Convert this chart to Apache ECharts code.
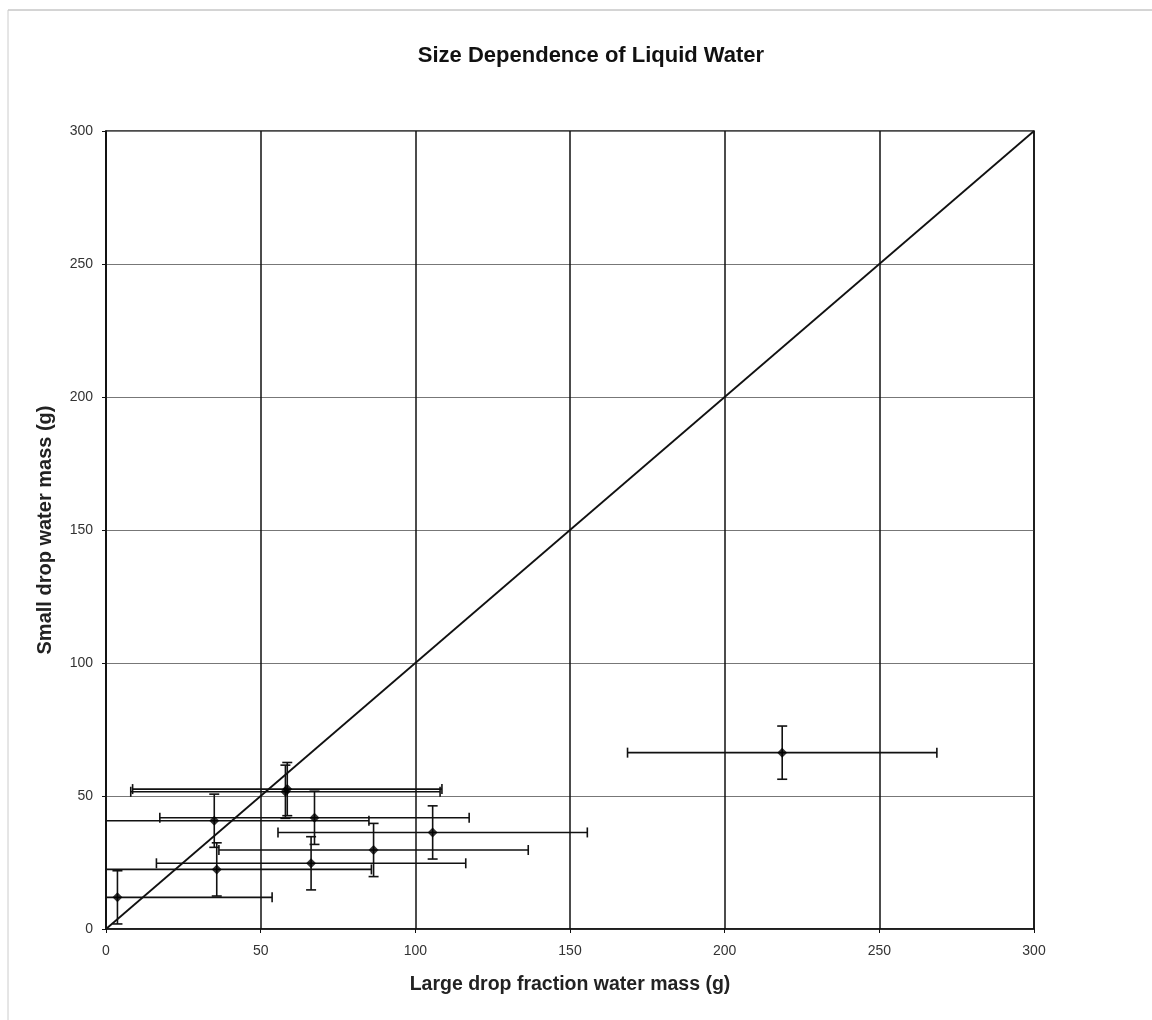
<!DOCTYPE html>
<html>
<head>
<meta charset="utf-8">
<title>Size Dependence of Liquid Water</title>
<script src="https://cdn.jsdelivr.net/npm/echarts@6/dist/echarts.min.js"></script>
<style>
  html, body { margin: 0; padding: 0; background: #fff; }
  #chart { width: 1152px; height: 1020px; }
</style>
</head>
<body>
<div id="chart"></div>
<script>
// Measured samples: large drop fraction (x) vs small drop (y) water mass, in grams
const largeDropMass = [3.7, 35.8, 66.3, 86.5, 105.6, 35.0, 67.4, 58.6, 58.0, 218.6];
const smallDropMass = [11.9, 22.4, 24.7, 29.7, 36.3, 40.7, 41.8, 52.6, 51.6, 66.3];
// Uncertainties (half-widths of the error bars)
const largeDropErr = [50, 50, 50, 50, 50, 50, 50, 50, 50, 50];
const smallDropErr = [10, 10, 10, 10, 10, 10, 10, 10, 10, 10];
// 1:1 reference line
const oneToOne = [[0, 0], [300, 300]];
const axisTicks = [0, 50, 100, 150, 200, 250, 300];

const points = largeDropMass.map((x, i) => [x, smallDropMass[i]]);
const errorData = largeDropMass.map((x, i) => [x, smallDropMass[i], largeDropErr[i], smallDropErr[i]]);

const FONT = 'Liberation Sans, Arial, sans-serif';
const chart = echarts.init(document.getElementById('chart'), null, { renderer: 'canvas' });

function renderErrorBars(params, api) {
  const x = api.value(0), y = api.value(1), ex = api.value(2), ey = api.value(3);
  const cs = params.coordSys;
  const c = api.coord([x, y]);
  const l = api.coord([x - ex, y]);
  const r = api.coord([x + ex, y]);
  const t = api.coord([x, y + ey]);
  const b = api.coord([x, y - ey]);
  const cap = 5;
  const style = { stroke: '#111', lineWidth: 1.6 };
  const children = [];
  const left = Math.max(l[0], cs.x);
  const right = Math.min(r[0], cs.x + cs.width);
  children.push({ type: 'line', shape: { x1: left, y1: c[1], x2: right, y2: c[1] }, style });
  if (l[0] >= cs.x) {
    children.push({ type: 'line', shape: { x1: l[0], y1: c[1] - cap, x2: l[0], y2: c[1] + cap }, style });
  }
  if (r[0] <= cs.x + cs.width) {
    children.push({ type: 'line', shape: { x1: r[0], y1: c[1] - cap, x2: r[0], y2: c[1] + cap }, style });
  }
  const top = Math.max(t[1], cs.y);
  const bottom = Math.min(b[1], cs.y + cs.height);
  children.push({ type: 'line', shape: { x1: c[0], y1: top, x2: c[0], y2: bottom }, style });
  children.push({ type: 'line', shape: { x1: c[0] - cap, y1: t[1], x2: c[0] + cap, y2: t[1] }, style });
  children.push({ type: 'line', shape: { x1: c[0] - cap, y1: b[1], x2: c[0] + cap, y2: b[1] }, style });
  return { type: 'group', children };
}

const option = {
  backgroundColor: '#fff',
  animation: false,
  title: {
    text: 'Size Dependence of Liquid Water',
    left: 586,
    top: 40,
    textAlign: 'center',
    textStyle: { fontFamily: FONT, fontSize: 22, fontWeight: 'bold', color: '#111' }
  },
  graphic: [
    { type: 'line', shape: { x1: 8, y1: 10, x2: 1152, y2: 10 }, style: { stroke: '#aaa', lineWidth: 1 } },
    { type: 'line', shape: { x1: 8, y1: 10, x2: 8, y2: 1020 }, style: { stroke: '#ccc', lineWidth: 1 } }
  ],
  grid: { left: 106, right: 118, top: 131, bottom: 91, show: true, borderColor: '#111', borderWidth: 1.5 },
  xAxis: {
    type: 'value', min: 0, max: 300, interval: 50,
    name: 'Large drop fraction water mass (g)',
    nameLocation: 'middle', nameGap: 46,
    nameTextStyle: { fontFamily: FONT, fontSize: 19.5, fontWeight: 'bold', color: '#222' },
    axisLine: { show: true, lineStyle: { color: '#111', width: 1.5 } },
    axisTick: { show: true, inside: false, length: 4, lineStyle: { color: '#111' } },
    axisLabel: {
      fontFamily: FONT, fontSize: 14, color: '#333', margin: 15,
      formatter: v => axisTicks.includes(v) ? String(v) : ''
    },
    splitLine: { show: true, lineStyle: { color: '#111', width: 1.5 } }
  },
  yAxis: {
    type: 'value', min: 0, max: 300, interval: 50,
    name: 'Small drop water mass (g)',
    nameLocation: 'middle', nameGap: 51,
    nameTextStyle: { fontFamily: FONT, fontSize: 20, fontWeight: 'bold', color: '#222' },
    axisLine: { show: true, lineStyle: { color: '#111', width: 1.5 } },
    axisTick: { show: true, inside: false, length: 4, lineStyle: { color: '#111' } },
    axisLabel: {
      fontFamily: FONT, fontSize: 14, color: '#333', margin: 13,
      formatter: v => axisTicks.includes(v) ? String(v) : ''
    },
    splitLine: { show: true, lineStyle: { color: '#777', width: 1 } }
  },
  series: [
    {
      type: 'line', data: oneToOne, symbol: 'none', silent: true,
      lineStyle: { color: '#111', width: 1.8 }, z: 2
    },
    {
      type: 'custom', data: errorData, renderItem: renderErrorBars,
      encode: { x: 0, y: 1 }, z: 3, silent: true
    },
    {
      type: 'scatter', data: points, symbol: 'diamond', symbolSize: 10,
      itemStyle: { color: '#000' }, z: 4
    }
  ]
};

chart.setOption(option);
</script>
</body>
</html>
